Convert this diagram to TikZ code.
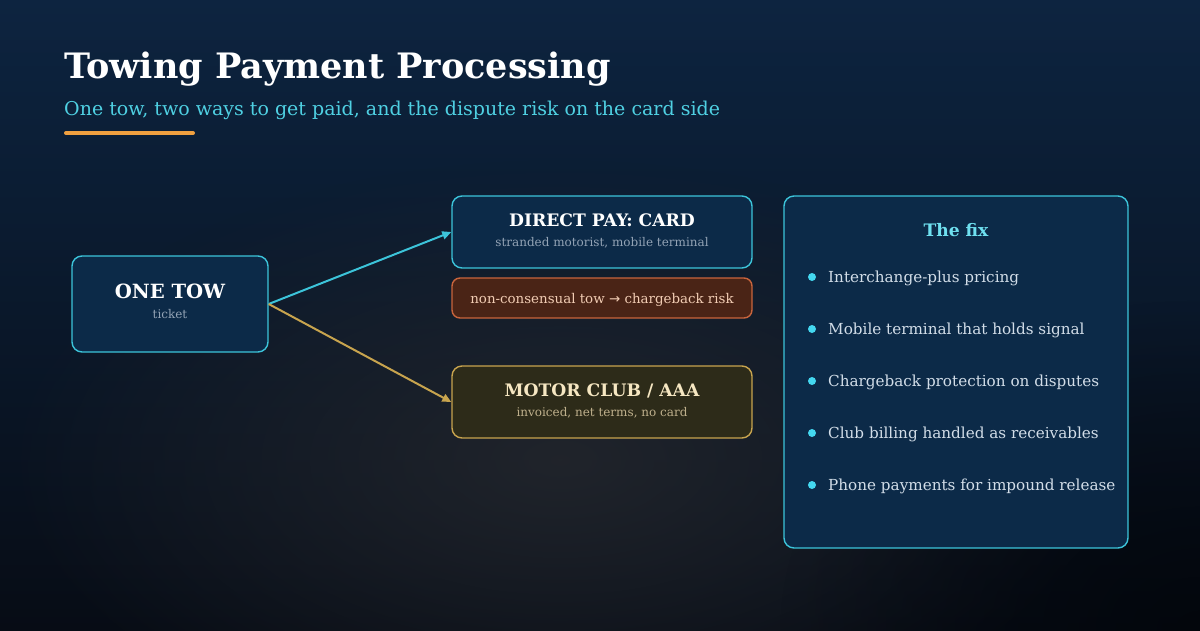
\documentclass[tikz,border=0pt]{standalone}
\usepackage{fontspec}
\setmainfont{DejaVu Serif}
\newfontfamily\arrowfont{DejaVu Sans}
\usetikzlibrary{arrows.meta,fadings}

\definecolor{bgtop}{HTML}{0D2440}
\definecolor{bgbot}{HTML}{070C15}
\definecolor{glow}{HTML}{23262C}
\definecolor{corner}{HTML}{02050A}
\definecolor{panel}{HTML}{0C2A48}
\definecolor{cyanline}{HTML}{3CC4DA}
\definecolor{cyantext}{HTML}{4FD0E2}
\definecolor{fixhead}{HTML}{6FE0F0}
\definecolor{dotcol}{HTML}{44D8F0}
\definecolor{orangebar}{HTML}{F0A040}
\definecolor{riskfill}{HTML}{4A2416}
\definecolor{riskline}{HTML}{C8643C}
\definecolor{risktext}{HTML}{F2CDB4}
\definecolor{clubfill}{HTML}{2D2B19}
\definecolor{clubline}{HTML}{C8A44E}
\definecolor{clubtext}{HTML}{F6E7C2}
\definecolor{clubsub}{HTML}{BFB08C}
\definecolor{muted}{HTML}{93A3B5}
\definecolor{itemtext}{HTML}{D2DDE8}

\tikzfading[name=softglow, inner color=transparent!0, outer color=transparent!100]

\tikzset{
  box/.style={draw=cyanline, line width=1.4pt, fill=panel, rounded corners=10pt},
  riskbox/.style={box, draw=riskline, fill=riskfill, rounded corners=8pt},
  clubbox/.style={box, draw=clubline, fill=clubfill},
  head/.style={anchor=base, font=\bfseries\fontsize{17.2}{20}\selectfont, text=white},
  sub/.style={anchor=base, font=\fontsize{12}{14}\selectfont, text=muted},
  item/.style={anchor=base west, inner sep=0, font=\fontsize{15.2}{18}\selectfont, text=itemtext},
  flow/.style={line width=2pt, -{Triangle[length=9pt,width=8pt]}}
}

\begin{document}
\begin{tikzpicture}[x=1pt,y=-1pt]
    % background
    \useasboundingbox (0,0) rectangle (1200,630);
    \clip (0,0) rectangle (1200,630);
    \fill[top color=bgtop, bottom color=bgbot] (0,0) rectangle (1200,630);
    \fill[glow, path fading=softglow, opacity=0.9] (560,460) ellipse (560 and 300);
    \fill[corner, path fading=softglow, opacity=0.8] (1200,630) ellipse (420 and 330);

    % title
    \node[anchor=base west, inner sep=0, text=white,
          font=\bfseries\fontsize{35}{42}\selectfont] (title) at (64,78) {Towing Payment Processing};
    \node[anchor=base west, inner sep=0, text=cyantext,
          font=\fontsize{19}{23}\selectfont] (subtitle) at (64,115) {One tow, two ways to get paid, and the dispute risk on the card side};
    \draw[orangebar, line width=4pt, line cap=round] (66,133) -- (193,133);

    % left: the tow
    \node[box, minimum width=196pt, minimum height=96pt] (tow) at (170,304) {};
    \node[head, font=\bfseries\fontsize{19.6}{24}\selectfont] (towlbl) at (170,298) {ONE TOW};
    \node[sub] (towsub) at (170,318) {ticket};

    % middle: two ways
    \node[box, minimum width=300pt, minimum height=72pt] (card) at (602,232) {};
    \node[head] (cardlbl) at (602,226) {DIRECT PAY: CARD};
    \node[sub] (cardsub) at (602,246) {stranded motorist, mobile terminal};

    \node[riskbox, minimum width=300pt, minimum height=40pt] (risk) at (602,298) {};
    \node[anchor=base, text=risktext, font=\fontsize{13.4}{16}\selectfont] (risklbl) at (602,303) {non-consensual tow {\arrowfont→} chargeback risk};

    \node[clubbox, minimum width=300pt, minimum height=72pt] (club) at (602,402) {};
    \node[head, text=clubtext] (clublbl) at (602,396) {MOTOR CLUB / AAA};
    \node[sub, text=clubsub] (clubsub) at (602,416) {invoiced, net terms, no card};

    \draw[flow, cyanline] (tow.east) -- (card.west);
    \draw[flow, clubline] (tow.east) -- (club.west);

    % right: the fix
    \node[box, minimum width=344pt, minimum height=352pt] (fix) at (956,372) {};
    \node[head, text=fixhead] (fixlbl) at (956,236) {The fix};
    \foreach \txt [count=\i] in {Interchange-plus pricing, Mobile terminal that holds signal,
        Chargeback protection on disputes, Club billing handled as receivables,
        Phone payments for impound release} {
        \fill[dotcol] (812,{277+52*(\i-1)}) circle (4pt);
        \node[item] (fix\i) at (828,{282+52*(\i-1)}) {\txt};
    }
\end{tikzpicture}
\end{document}
